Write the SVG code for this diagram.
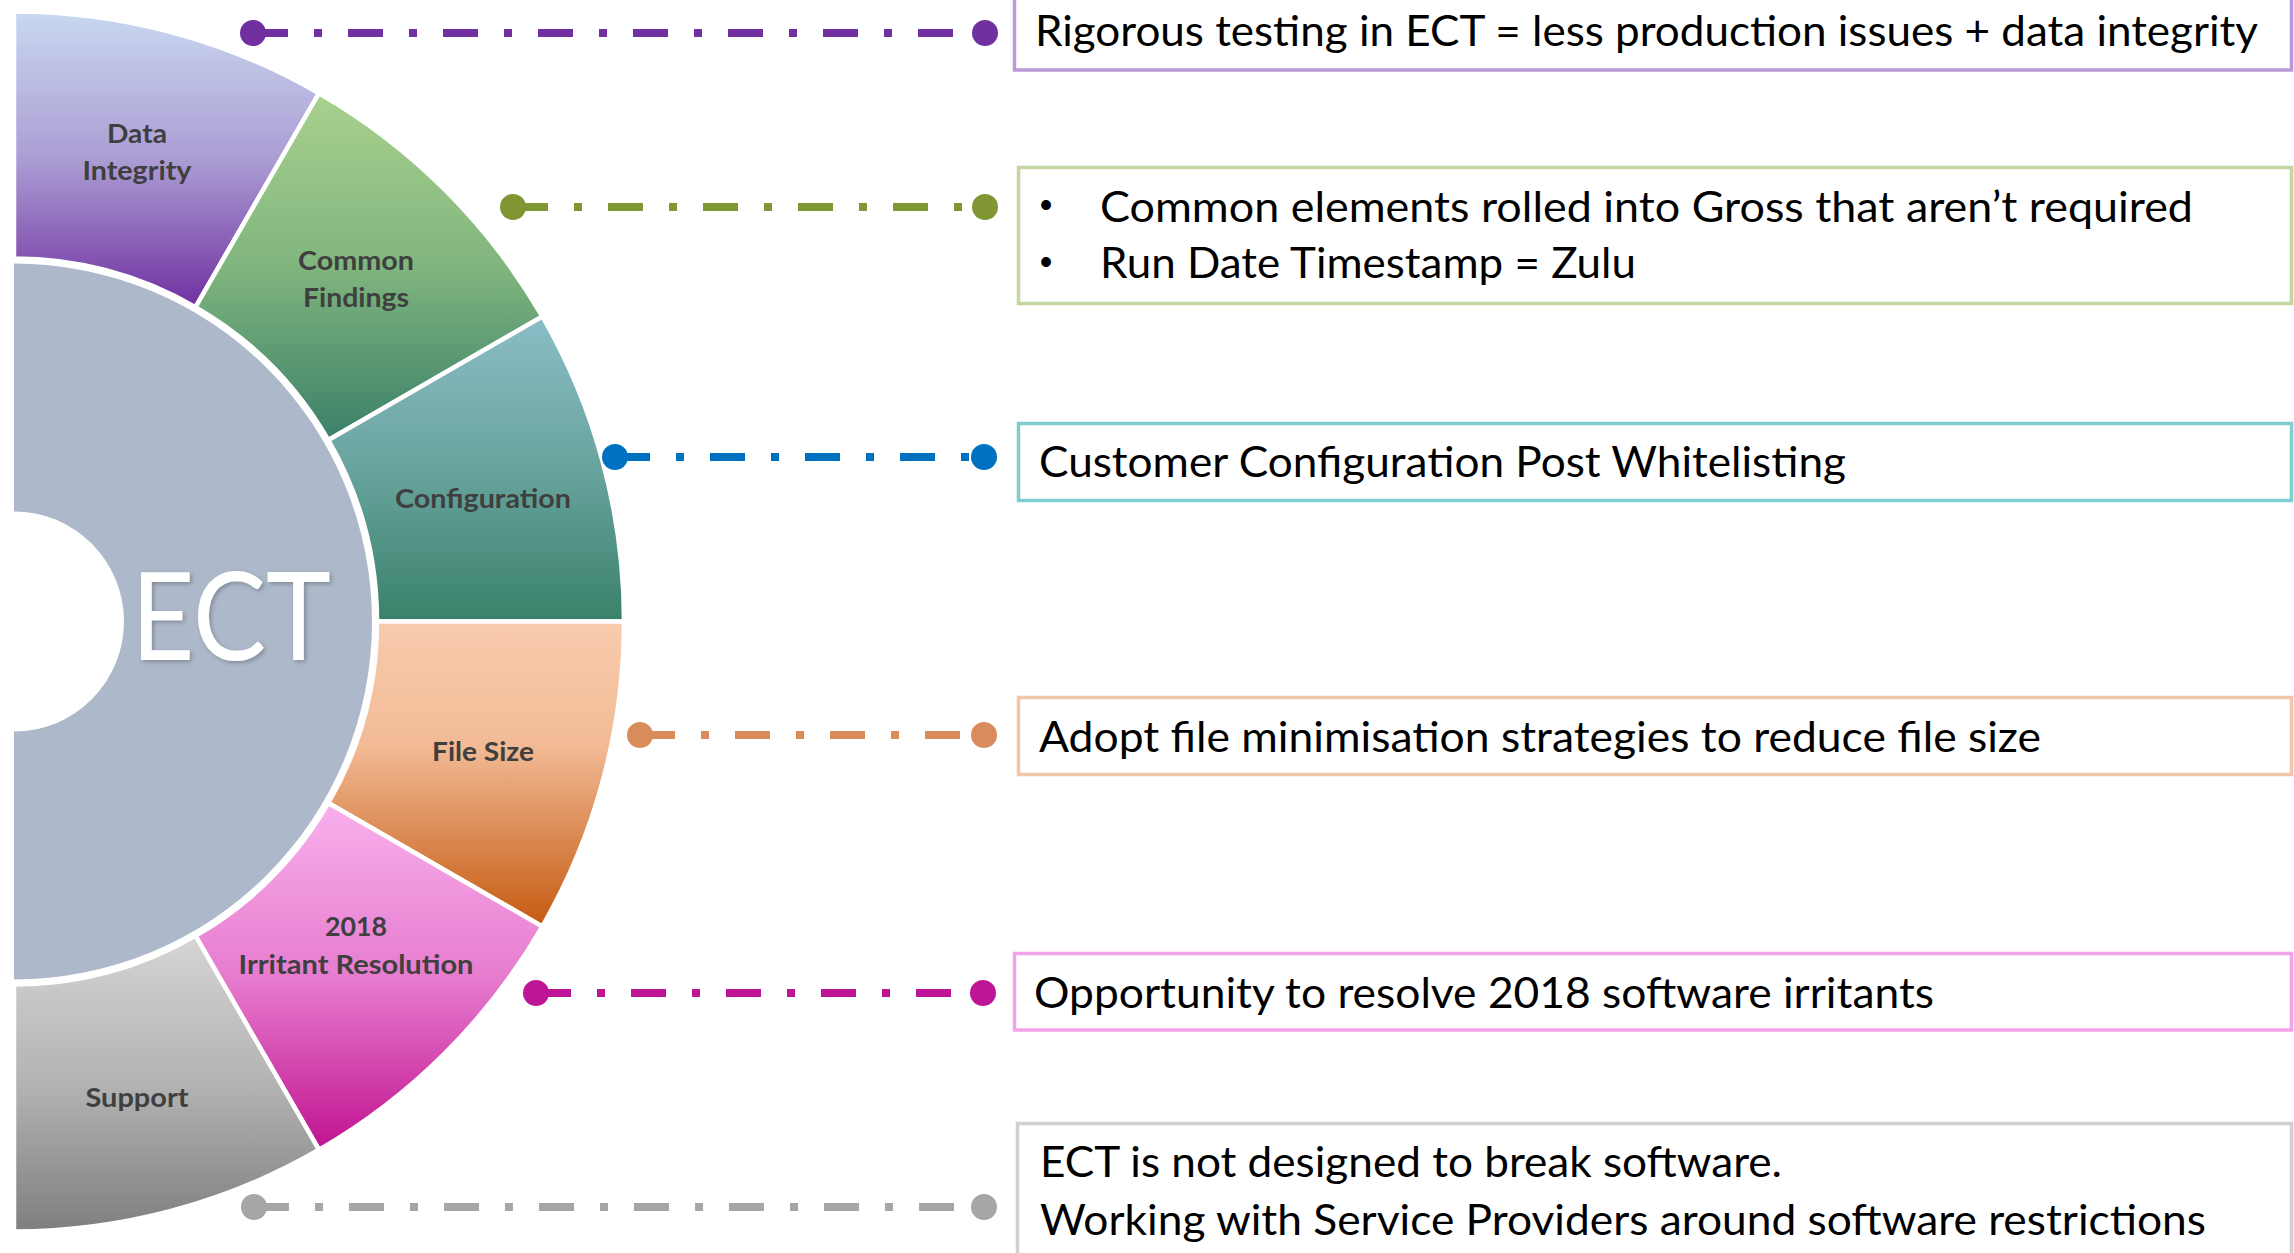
<svg xmlns="http://www.w3.org/2000/svg" width="2294" height="1253" viewBox="0 0 2294 1253">
<style>
.seg{stroke:#ffffff;stroke-width:4.5;stroke-linejoin:miter}
.lbl{font-family:Lato,"Open Sans","Liberation Sans",sans-serif;font-weight:700;font-size:27px;fill:#3f3f3f;text-anchor:middle}
.box{fill:#ffffff;stroke-width:3.5}
.txt{font-family:Lato,"Open Sans","Liberation Sans",sans-serif;font-size:43px;fill:#000000}
.bul{font-family:"Liberation Sans",sans-serif;font-size:36px;fill:#000000;text-anchor:middle}
.con{stroke-width:8;stroke-dasharray:35 26 8 26;fill:none}
</style>
<defs>
<linearGradient id="gData" x1="0" y1="0" x2="0" y2="1"><stop offset="0" stop-color="#c9d8f0"/><stop offset="0.5" stop-color="#ab9dd4"/><stop offset="1" stop-color="#7030a0"/></linearGradient>
<linearGradient id="gCommon" x1="0" y1="0" x2="0" y2="1"><stop offset="0" stop-color="#a9d18e"/><stop offset="0.5" stop-color="#80b57e"/><stop offset="1" stop-color="#3a8068"/></linearGradient>
<linearGradient id="gConfig" x1="0" y1="0" x2="0" y2="1"><stop offset="0" stop-color="#8bbdc6"/><stop offset="0.5" stop-color="#68a49e"/><stop offset="1" stop-color="#3a816a"/></linearGradient>
<linearGradient id="gFile" x1="0" y1="0" x2="0" y2="1"><stop offset="0" stop-color="#f8cbad"/><stop offset="0.4" stop-color="#f2bb96"/><stop offset="1" stop-color="#c55a11"/></linearGradient>
<linearGradient id="gIrr" x1="0" y1="0" x2="0" y2="1"><stop offset="0" stop-color="#f8b0ec"/><stop offset="0.5" stop-color="#e77ccf"/><stop offset="1" stop-color="#c0138f"/></linearGradient>
<linearGradient id="gSup" x1="0" y1="0" x2="0" y2="1"><stop offset="0" stop-color="#d6d4d4"/><stop offset="0.5" stop-color="#b3b3b3"/><stop offset="1" stop-color="#7f7f7f"/></linearGradient>
<filter id="sh" x="-10%" y="-10%" width="130%" height="140%"><feDropShadow dx="2" dy="2" stdDeviation="2" flood-color="#000000" flood-opacity="0.25"/></filter>
</defs>

<g id="ect-center">
<path d="M 14 263.5 A 358 358 0 0 1 14 979.5 Z" fill="#adb9ca"/>
<path d="M 14 511.5 A 110 110 0 0 1 14 731.5 Z" fill="#ffffff"/>
<text x="131" y="660" font-family="Lato,'Open Sans','Liberation Sans',sans-serif" font-weight="400" font-size="122" fill="#ffffff" textLength="200" lengthAdjust="spacingAndGlyphs" filter="url(#sh)">ECT</text>
</g>

<g id="seg-data-integrity">
<path class="seg" fill="url(#gData)" d="M 14 11.5 A 610 610 0 0 1 319 93.2 L 195.5 307.1 A 363 363 0 0 0 14 258.5 Z"/>
<text class="lbl" x="137" y="143" textLength="60" lengthAdjust="spacingAndGlyphs">Data</text>
<text class="lbl" x="137" y="180" textLength="109" lengthAdjust="spacingAndGlyphs">Integrity</text>
</g>
<g id="seg-common-findings">
<path class="seg" fill="url(#gCommon)" d="M 319 93.2 A 610 610 0 0 1 542.3 316.5 L 328.4 440 A 363 363 0 0 0 195.5 307.1 Z"/>
<text class="lbl" x="356" y="270" textLength="116" lengthAdjust="spacingAndGlyphs">Common</text>
<text class="lbl" x="356" y="307" textLength="106" lengthAdjust="spacingAndGlyphs">Findings</text>
</g>
<g id="seg-configuration">
<path class="seg" fill="url(#gConfig)" d="M 542.3 316.5 A 610 610 0 0 1 624 621.5 L 377 621.5 A 363 363 0 0 0 328.4 440 Z"/>
<text class="lbl" x="483" y="508" textLength="176" lengthAdjust="spacingAndGlyphs">Configuration</text>
</g>
<g id="seg-file-size">
<path class="seg" fill="url(#gFile)" d="M 624 621.5 A 610 610 0 0 1 542.3 926.5 L 328.4 803 A 363 363 0 0 0 377 621.5 Z"/>
<text class="lbl" x="483" y="761" textLength="102" lengthAdjust="spacingAndGlyphs">File Size</text>
</g>
<g id="seg-irritant">
<path class="seg" fill="url(#gIrr)" d="M 542.3 926.5 A 610 610 0 0 1 319 1149.8 L 195.5 935.9 A 363 363 0 0 0 328.4 803 Z"/>
<text class="lbl" x="356" y="936" textLength="62" lengthAdjust="spacingAndGlyphs">2018</text>
<text class="lbl" x="356" y="974" textLength="235" lengthAdjust="spacingAndGlyphs">Irritant Resolution</text>
</g>
<g id="seg-support">
<path class="seg" fill="url(#gSup)" d="M 319 1149.8 A 610 610 0 0 1 14 1231.5 L 14 984.5 A 363 363 0 0 0 195.5 935.9 Z"/>
<text class="lbl" x="137" y="1107" textLength="103" lengthAdjust="spacingAndGlyphs">Support</text>
</g>

<g id="connectors">
<g stroke="#7030a0" fill="#7030a0"><line class="con" x1="253" y1="33" x2="985" y2="33"/><circle cx="253" cy="33" r="13" stroke="none"/><circle cx="985" cy="33" r="13" stroke="none"/></g>
<g stroke="#7f9632" fill="#7f9632"><line class="con" x1="513" y1="207" x2="985" y2="207"/><circle cx="513" cy="207" r="13" stroke="none"/><circle cx="985" cy="207" r="13" stroke="none"/></g>
<g stroke="#0070c0" fill="#0070c0"><line class="con" x1="615" y1="457" x2="984" y2="457"/><circle cx="615" cy="457" r="13" stroke="none"/><circle cx="984" cy="457" r="13" stroke="none"/></g>
<g stroke="#d98b5c" fill="#d98b5c"><line class="con" x1="640" y1="735" x2="984" y2="735"/><circle cx="640" cy="735" r="13" stroke="none"/><circle cx="984" cy="735" r="13" stroke="none"/></g>
<g stroke="#be1597" fill="#be1597"><line class="con" x1="536" y1="993" x2="983" y2="993"/><circle cx="536" cy="993" r="13" stroke="none"/><circle cx="983" cy="993" r="13" stroke="none"/></g>
<g stroke="#a6a6a6" fill="#a6a6a6"><line class="con" x1="254" y1="1207" x2="984" y2="1207"/><circle cx="254" cy="1207" r="13" stroke="none"/><circle cx="984" cy="1207" r="13" stroke="none"/></g>
</g>

<g id="box-data-integrity">
<rect class="box" x="1014.5" y="-5" width="1277" height="75" stroke="#b69bd8"/>
<text class="txt" x="1035" y="46" font-size="39" textLength="1223" lengthAdjust="spacingAndGlyphs">Rigorous testing in ECT = less production issues + data integrity</text>
</g>
<g id="box-common-findings">
<rect class="box" x="1018.5" y="167.5" width="1273" height="136" stroke="#c4d6a0"/>
<text class="bul" x="1046" y="217">•</text>
<text class="txt" x="1100" y="221.5" textLength="1093" lengthAdjust="spacingAndGlyphs">Common elements rolled into Gross that aren’t required</text>
<text class="bul" x="1046" y="274">•</text>
<text class="txt" x="1100" y="278" textLength="536" lengthAdjust="spacingAndGlyphs">Run Date Timestamp = Zulu</text>
</g>
<g id="box-configuration">
<rect class="box" x="1018.5" y="423.5" width="1273" height="77" stroke="#7fcdd0"/>
<text class="txt" x="1039" y="476.5" textLength="807" lengthAdjust="spacingAndGlyphs">Customer Configuration Post Whitelisting</text>
</g>
<g id="box-file-size">
<rect class="box" x="1018.5" y="697.5" width="1273" height="77" stroke="#f0c6ab"/>
<text class="txt" x="1039" y="751.5" textLength="1002" lengthAdjust="spacingAndGlyphs">Adopt file minimisation strategies to reduce file size</text>
</g>
<g id="box-irritant">
<rect class="box" x="1014.5" y="953.5" width="1277" height="76.5" stroke="#f4a3ea"/>
<text class="txt" x="1034" y="1008" textLength="900" lengthAdjust="spacingAndGlyphs">Opportunity to resolve 2018 software irritants</text>
</g>
<g id="box-support">
<rect class="box" x="1017.5" y="1123.5" width="1274" height="160" stroke="#d0d0d0"/>
<text class="txt" x="1040" y="1177" textLength="742" lengthAdjust="spacingAndGlyphs">ECT is not designed to break software.</text>
<text class="txt" x="1040" y="1235" textLength="1166" lengthAdjust="spacingAndGlyphs">Working with Service Providers around software restrictions</text>
</g>
</svg>
